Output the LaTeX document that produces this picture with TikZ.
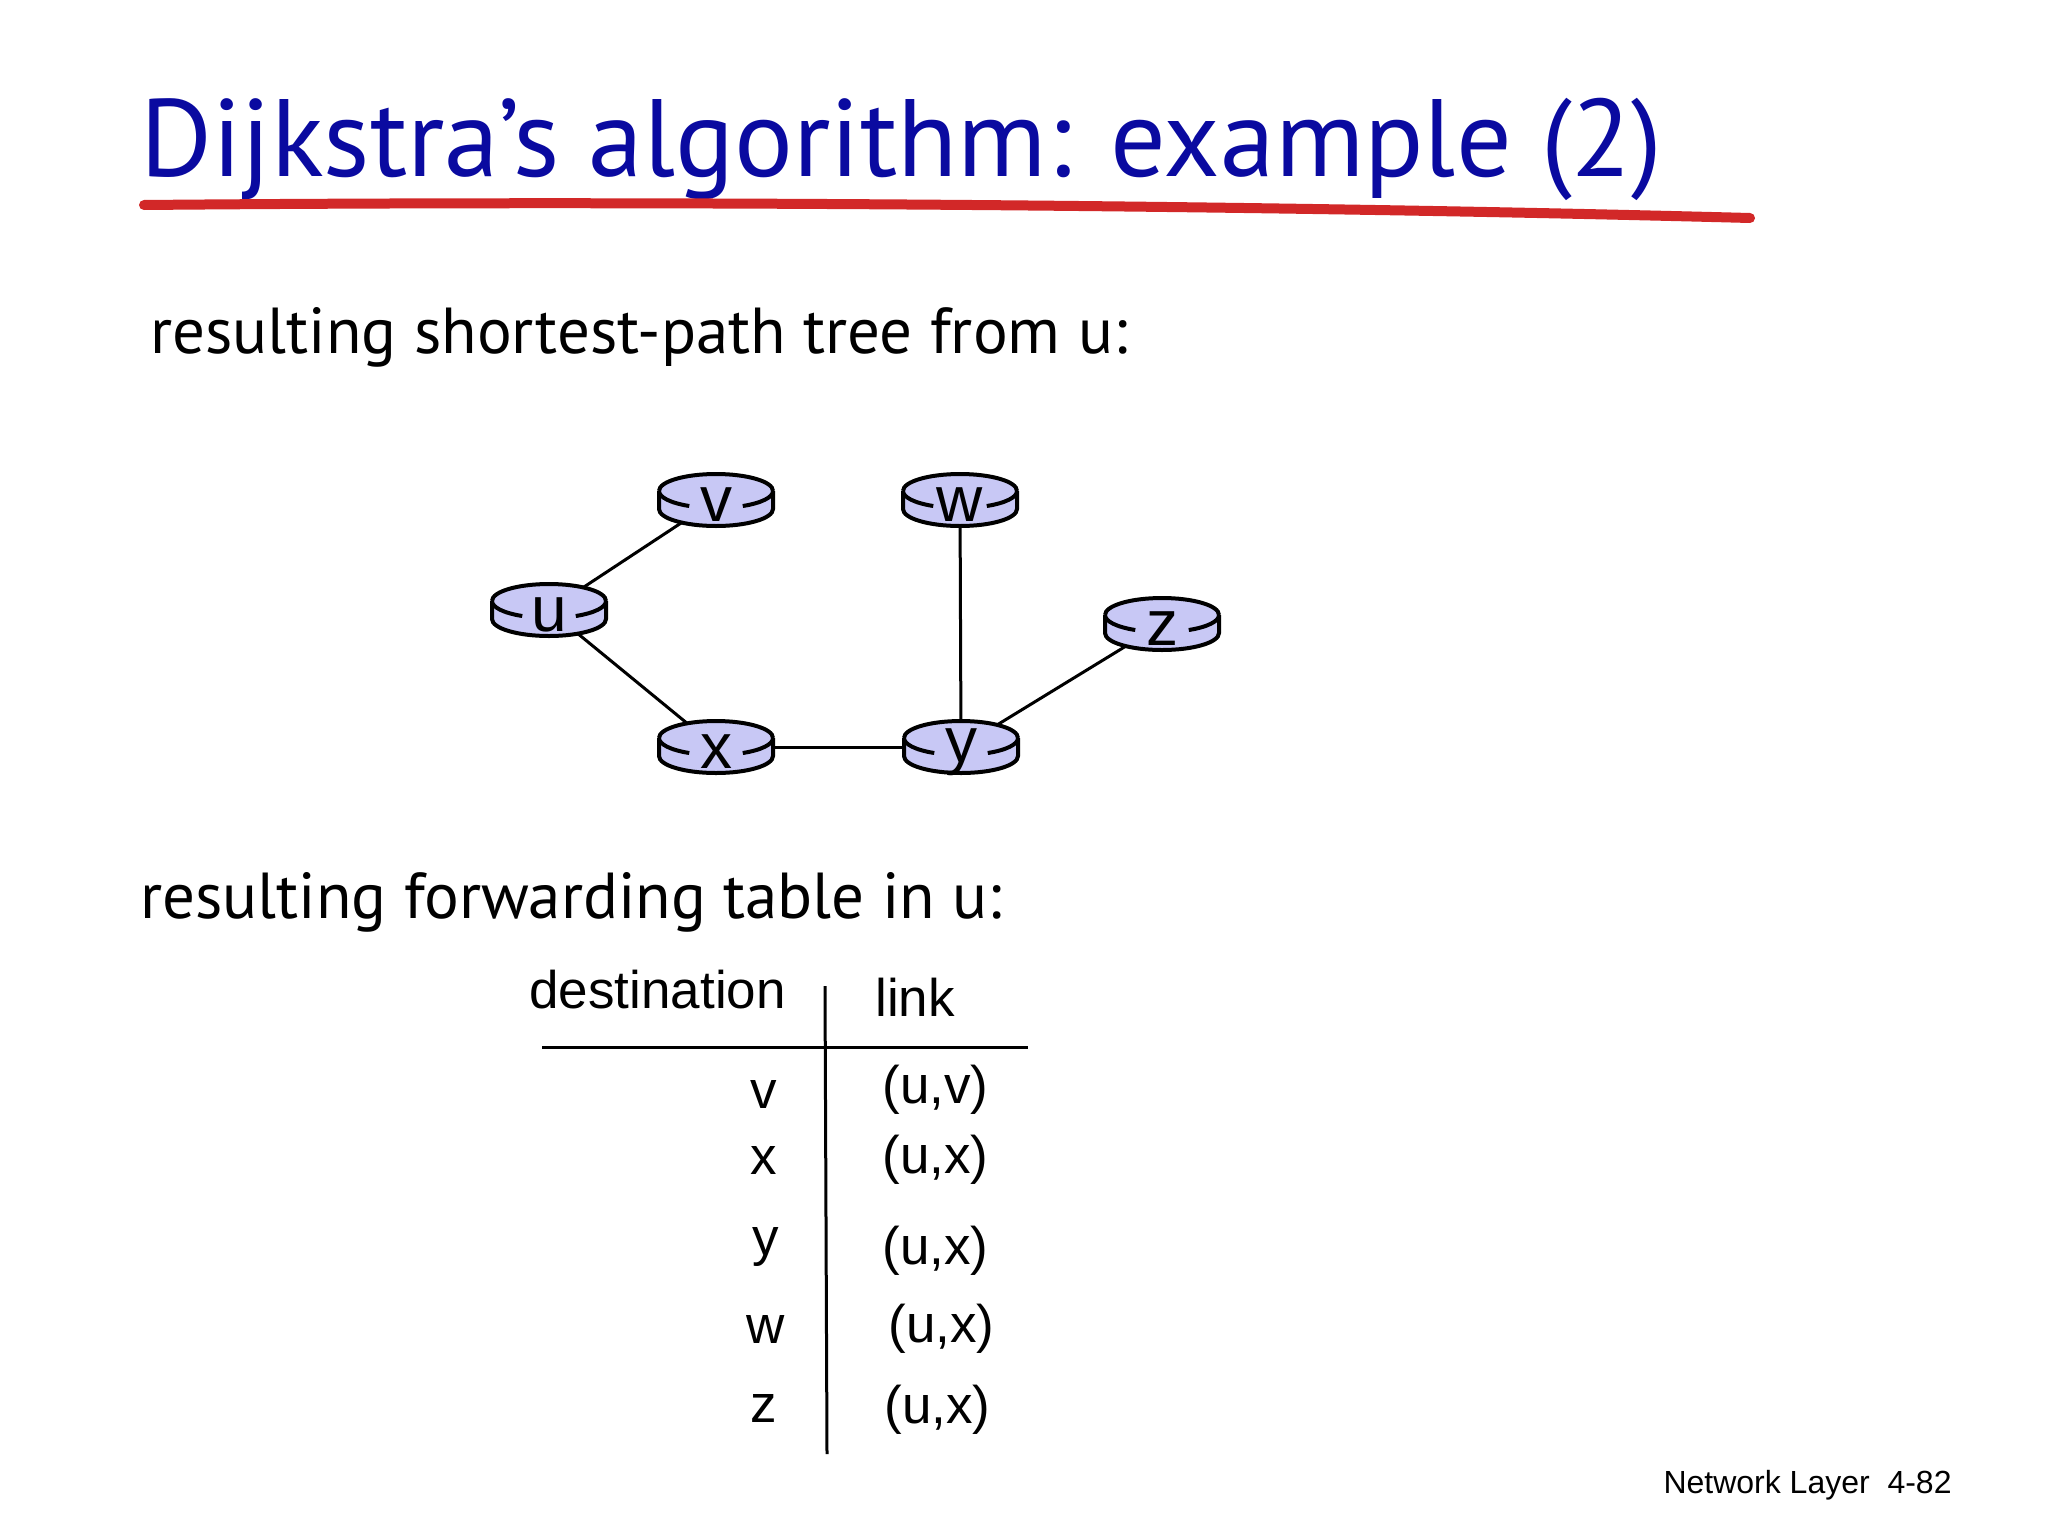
\documentclass[tikz,border=0pt]{standalone}
\usepackage{fontspec}
\setmainfont{Liberation Sans}
\newfontfamily\titlefont{PT Sans}
\definecolor{navy}{RGB}{10,10,160}
\definecolor{rfill}{RGB}{200,200,245}
\definecolor{ured}{RGB}{210,40,40}
\newcommand\myrouter[3]{%
  \fill[rfill] (#1-57,#2-9) -- (#1-57,#2+9) arc[start angle=180,end angle=0,x radius=57,y radius=17] -- (#1+57,#2-9) -- cycle;
  \draw[line width=2pt] (#1-57,#2-9) -- (#1-57,#2+9) arc[start angle=180,end angle=0,x radius=57,y radius=17] -- (#1+57,#2-9);
  \fill[rfill] (#1,#2-9) ellipse[x radius=57,y radius=17];
  \draw[line width=2pt] (#1-57,#2-9) arc[start angle=180,end angle=360,x radius=57,y radius=17];
  \draw[line width=2pt] (#1-57,#2-9) arc[start angle=180,end angle=118,x radius=57,y radius=17];
  \draw[line width=2pt] (#1+57,#2-9) arc[start angle=0,end angle=62,x radius=57,y radius=17];
  \node[rlabel] at (#1,#2+5) {#3};}
\tikzset{rlabel/.style={inner sep=0pt,font=\fontsize{32}{32}\selectfont},
  rpt/.style={inner sep=0pt,minimum width=114,minimum height=40},
  edge/.style={line width=1.5pt},
  tabtxt/.style={font=\fontsize{26.5}{30}\selectfont,inner sep=0pt}}
\begin{document}
\begin{tikzpicture}[x=0.5pt,y=-0.5pt]
\useasboundingbox (0,0) rectangle (2048,1536);
\node[anchor=base west,text=navy,inner sep=0pt,font=\titlefont\fontsize{55}{60}\selectfont] (title) at (140,176) {Dijkstra’s algorithm: example (2)};
\draw[ured,line width=5pt,line cap=round] (144,205) .. controls (700,200) and (1300,206) .. (1750,218);
\node[anchor=base west,inner sep=0pt,font=\titlefont\fontsize{32.5}{36}\selectfont] (s1) at (150,353) {resulting shortest-path tree from u:};
\node[anchor=base west,inner sep=0pt,font=\titlefont\fontsize{32.5}{36}\selectfont] (s2) at (140,918) {resulting forwarding table in u:};
% router anchors
\node[rpt] (u) at (549,610) {};
\node[rpt] (v) at (716,500) {};
\node[rpt] (w) at (960,500) {};
\node[rpt] (z) at (1162,624) {};
\node[rpt] (x) at (716,747) {};
\node[rpt] (y) at (961,747) {};
\draw[edge] (u.center) -- (v.center);
\draw[edge] (u.center) -- (x.center);
\draw[edge] (x.center) -- (y.center);
\draw[edge] (y.center) -- (w.center);
\draw[edge] (y.center) -- (z.center);
\myrouter{549}{610}{u}
\myrouter{716}{500}{v}
\myrouter{960}{500}{w}
\myrouter{1162}{624}{z}
\myrouter{716}{747}{x}
\myrouter{961}{747}{y}
% table
\node[tabtxt,anchor=base west] (dh) at (529,1008) {destination};
\node[tabtxt,anchor=base west] (lh) at (875,1016) {link};
\coordinate (h1) at (542,1047); \coordinate (h2) at (1028,1047);
\coordinate (v1) at (825,986); \coordinate (v2) at (827,1454);
\draw[line width=1.5pt] (h1) -- (h2);
\draw[line width=1.5pt] (v1) -- (v2);
\node[tabtxt,anchor=east] (dv) at (777,1094) {v};
\node[tabtxt,anchor=east] (dx) at (777,1160) {x};
\node[tabtxt,anchor=east] (dy) at (779,1247) {y};
\node[tabtxt,anchor=east] (dw) at (785,1329) {w};
\node[tabtxt,anchor=east] (dz) at (777,1408) {z};
\node[tabtxt,anchor=west] (lv) at (882,1090) {(u,v)};
\node[tabtxt,anchor=west] (lx) at (882,1160) {(u,x)};
\node[tabtxt,anchor=west] (ly) at (882,1251) {(u,x)};
\node[tabtxt,anchor=west] (lw) at (888,1329) {(u,x)};
\node[tabtxt,anchor=west] (lz) at (884,1410) {(u,x)};
\node[anchor=base east,inner sep=0pt,font=\fontsize{16}{18}\selectfont] (foot) at (1952,1493) {Network Layer\ \ 4-82};
\end{tikzpicture}
\end{document}
